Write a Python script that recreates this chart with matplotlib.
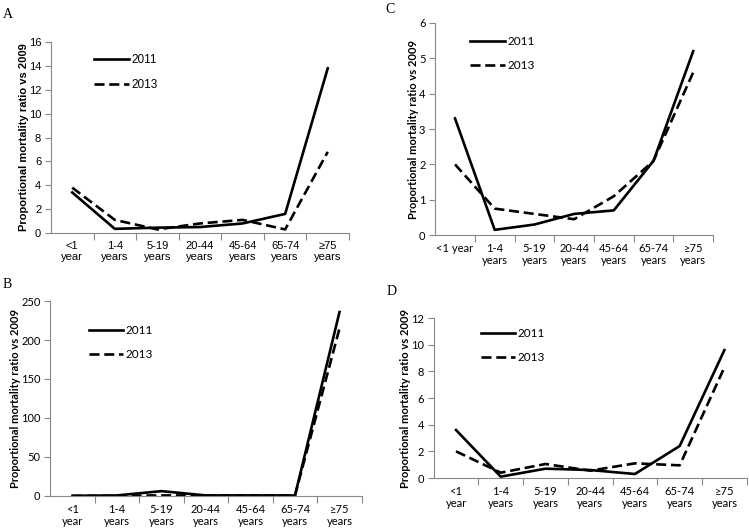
import numpy as np
import matplotlib.pyplot as plt

ages = ["<1\nyear", "1-4\nyears", "5-19\nyears", "20-44\nyears",
        "45-64\nyears", "65-74\nyears", "\u226575\nyears"]
ages_c = ["<1 year"] + ages[1:]

a_2011 = [3.4, 0.35, 0.45, 0.5, 0.8, 1.6, 13.8]
a_2013 = [3.8, 1.1, 0.3, 0.8, 1.1, 0.3, 6.8]
b_2011 = [0, 0.5, 6, 0.5, 0.5, 0.5, 236]
b_2013 = [0, 0, 0.5, 0.5, 0.5, 0.5, 215]
c_2011 = [3.3, 0.15, 0.3, 0.6, 0.7, 2.1, 5.2]
c_2013 = [2.0, 0.75, 0.6, 0.45, 1.1, 2.1, 4.6]
d_2011 = [3.6, 0.1, 0.7, 0.6, 0.3, 2.4, 9.6]
d_2013 = [2.0, 0.4, 1.05, 0.55, 1.1, 0.95, 8.3]

fig = plt.figure(figsize=(7.49, 5.32), dpi=100)


def panel(rect, letter, letter_xy, labels, y11, y13, ymax, ystep, leg_xy, font, lab_font):
    ax = fig.add_axes(rect)
    x = np.arange(len(labels))
    ax.plot(x, y11, color="black", lw=1.9, label="2011")
    ax.plot(x, y13, color="black", lw=1.9, dashes=(3.8, 1.8), label="2013")
    ax.set_xlim(-0.5, 6.5)
    ax.set_ylim(0, ymax)
    ax.set_yticks(np.arange(0, ymax + 0.01, ystep))
    ax.set_xticks(x)
    ax.set_xticklabels(labels, fontsize=8, family=font, linespacing=1.1)
    ax.set_xticks(np.arange(0.5, 6.6, 1), minor=True)
    ax.tick_params(axis="x", which="major", length=0, pad=6)
    ax.tick_params(axis="x", which="minor", length=5, color="#888888", width=0.8)
    ax.tick_params(axis="y", length=4, color="#888888", width=0.8, pad=3)
    for t in ax.get_yticklabels():
        t.set_fontsize(8)
        t.set_family(font)
    for s in ["top", "right"]:
        ax.spines[s].set_visible(False)
    for s in ["left", "bottom"]:
        ax.spines[s].set_color("#888888")
        ax.spines[s].set_linewidth(0.8)
    ax.set_ylabel("Proportional mortality ratio vs 2009", fontsize=8,
                  fontweight="bold", family=lab_font, labelpad=0)
    ax.legend(loc="upper left", bbox_to_anchor=leg_xy, frameon=False,
              handlelength=2.9, handletextpad=0.2, labelspacing=1.1,
              prop={"family": font, "size": 8.5}, borderaxespad=0)
    fig.text(letter_xy[0], letter_xy[1], letter, fontsize=10,
             family="Liberation Serif", va="top")
    return ax


panel([0.068, 0.562, 0.398, 0.359], "A", (0.004, 0.985), ages,
      a_2011, a_2013, 16, 2, (0.13, 0.96), "Liberation Sans", "Liberation Sans")
panel([0.581, 0.558, 0.371, 0.399], "C", (0.514, 0.995), ages_c,
      c_2011, c_2013, 6, 1, (0.11, 0.96), "Lato", "Lato")
panel([0.067, 0.068, 0.416, 0.366], "B", (0.004, 0.478), ages,
      b_2011, b_2013, 250, 50, (0.11, 0.90), "Lato", "Lato")
panel([0.579, 0.1015, 0.418, 0.3005], "D", (0.516, 0.465), ages,
      d_2011, d_2013, 12, 2, (0.135, 0.97), "Lato", "Lato")

fig.savefig("out.png", dpi=100)
